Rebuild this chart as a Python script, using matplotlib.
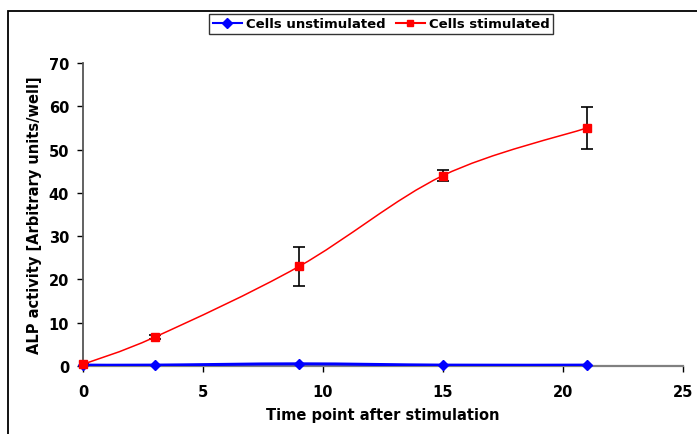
import numpy as np
import matplotlib
matplotlib.use("Agg")
import matplotlib.pyplot as plt
from matplotlib.path import Path
from matplotlib.patches import PathPatch, Rectangle
from matplotlib.lines import Line2D

# Measured ALP activity over time
time_points = [0, 3, 9, 15, 21]
unstimulated = [0.2, 0.2, 0.5, 0.2, 0.2]
stimulated = [0.4, 6.7, 23.0, 44.0, 55.0]
stimulated_err = [0.2, 0.4, 4.6, 1.2, 4.9]

series_names = ["Cells unstimulated", "Cells stimulated"]
x_ticks = [0, 5, 10, 15, 20, 25]
y_ticks = [0, 10, 20, 30, 40, 50, 60, 70]

plt.rcParams["font.family"] = ["DejaVu Sans"]
plt.rcParams["font.weight"] = "bold"


def smooth_path(xs, ys):
    """Cubic Bezier curve through the points (Catmull-Rom style smoothing)."""
    pts = np.column_stack([xs, ys]).astype(float)
    n = len(pts)
    verts = [pts[0]]
    codes = [Path.MOVETO]
    for i in range(n - 1):
        p0 = pts[i - 1] if i > 0 else pts[i]
        p1 = pts[i]
        p2 = pts[i + 1]
        p3 = pts[i + 2] if i + 2 < n else pts[i + 1]
        c1 = p1 + (p2 - p0) / 6.0
        c2 = p2 - (p3 - p1) / 6.0
        verts += [c1, c2, p2]
        codes += [Path.CURVE4] * 3
    return Path(verts, codes)


fig = plt.figure(figsize=(6.97, 4.35), dpi=100)
ax = fig.add_axes([83 / 697, 68 / 435, 600 / 697, 303 / 435])

# Outer frame of the chart area
fig.patches.append(Rectangle((8 / 697, -0.1), 1.2, 0.1 + (435 - 12) / 435,
                             transform=fig.transFigure, fill=False,
                             edgecolor="black", linewidth=1.3))

blue = "#0000FF"
red = "#FF0000"

ax.add_patch(PathPatch(smooth_path(time_points, unstimulated), fill=False,
                       edgecolor=blue, linewidth=2.2, zorder=3))
ax.plot(time_points, unstimulated, linestyle="none", marker="D", markersize=5.5,
        color=blue, zorder=4, clip_on=False)

ax.add_patch(PathPatch(smooth_path(time_points, stimulated), fill=False,
                       edgecolor=red, linewidth=1.1, zorder=3))
ax.errorbar(time_points, stimulated, yerr=stimulated_err, fmt="none",
            ecolor="black", elinewidth=1.2, capsize=4, capthick=1.2, zorder=2)
ax.plot(time_points, stimulated, linestyle="none", marker="s", markersize=6,
        color=red, zorder=5, clip_on=False)

ax.set_xlim(0, 25)
ax.set_ylim(0, 70)
ax.set_xticks(x_ticks)
ax.set_yticks(y_ticks)
ax.tick_params(axis="both", direction="out", length=4, width=1, labelsize=10.5,
               pad=6)
ax.tick_params(axis="x", colors="black", pad=9)
for lbl in ax.get_xticklabels() + ax.get_yticklabels():
    lbl.set_fontweight("bold")

for side in ("top", "right"):
    ax.spines[side].set_visible(False)
ax.spines["left"].set_color("#555555")
ax.spines["bottom"].set_color("#808080")
ax.spines["left"].set_linewidth(1.3)
ax.spines["bottom"].set_linewidth(1.6)

ax.set_xlabel("Time point after stimulation", fontsize=10.5, fontweight="bold",
              labelpad=6)
ax.set_ylabel("ALP activity [Arbitrary units/well]", fontsize=10.5,
              fontweight="bold", labelpad=5)

handles = [
    Line2D([], [], color=blue, linewidth=1.5, marker="D", markersize=5),
    Line2D([], [], color=red, linewidth=1.5, marker="s", markersize=5),
]
leg = fig.legend(handles, series_names, loc="center", ncol=2,
                 bbox_to_anchor=(381 / 697, 1 - 25 / 435),
                 prop={"weight": "bold", "size": 9.5}, frameon=True,
                 fancybox=False, edgecolor="black", handlelength=2.2,
                 handletextpad=0.3, columnspacing=0.8, borderpad=0.25)
leg.get_frame().set_linewidth(1.0)

fig.savefig("out.png", dpi=100)
